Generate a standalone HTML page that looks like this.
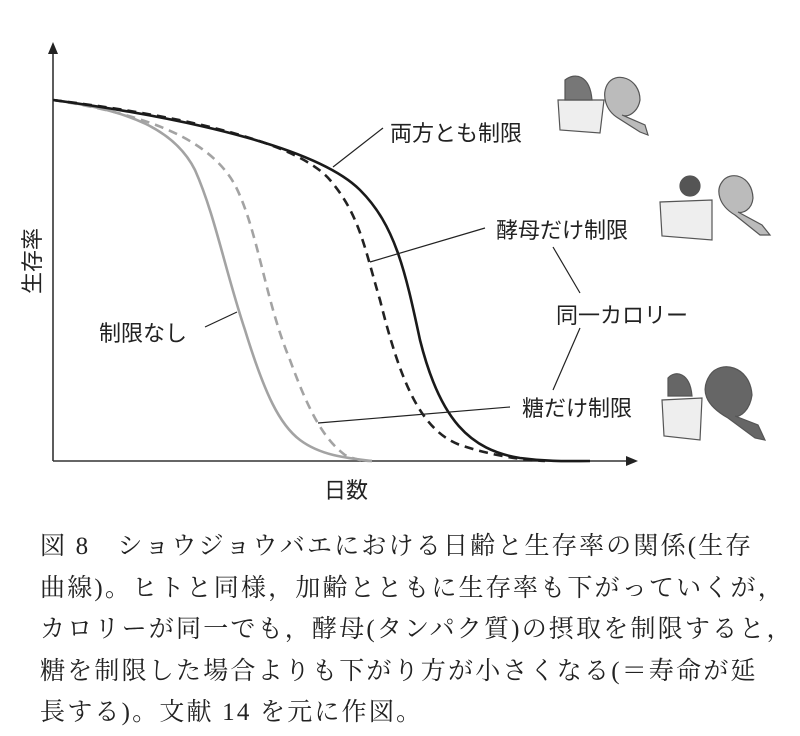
<!DOCTYPE html>
<html><head><meta charset="utf-8"><style>
body{margin:0;background:#fff;width:800px;height:736px;overflow:hidden;position:relative}
.cap{position:absolute;left:40px;top:526px;font-family:"Liberation Serif","Noto Serif CJK JP",serif;font-size:25px;line-height:41.6px;color:#222;letter-spacing:2.2px;white-space:nowrap}
</style></head><body>
<svg width="800" height="520" style="position:absolute;left:0;top:0" font-family="Liberation Sans, Noto Sans CJK JP, sans-serif">
<g stroke="#333" stroke-width="1.6" fill="none">
<line x1="53" y1="461" x2="53" y2="52"/>
<line x1="53" y1="461" x2="628" y2="461"/>
</g>
<polygon points="53,42 48,54 58,54" fill="#222"/>
<polygon points="638,461 626,456 626,466" fill="#222"/>
<g fill="none" stroke-width="2.6">
<path d="M53,100 C130,110 175,130 195,170 C215,215 225,270 245,330 C265,395 280,425 300,440 C320,455 345,458 372,461" stroke="#a3a3a3"/>
<path d="M53,100 C150,115 210,140 235,185 C258,230 265,300 290,360 C310,415 325,440 345,455 C355,460 365,461 372,461" stroke="#a3a3a3" stroke-dasharray="9,6"/>
<path d="M53,100 C200,118 300,145 330,180 C360,215 365,250 380,300 C400,380 420,430 460,445 C490,455 520,460 545,461" stroke="#222" stroke-dasharray="9,6"/>
<path d="M53,100 C200,120 320,150 360,190 C395,225 405,270 420,340 C440,420 470,450 520,458 C550,462 570,461 590,461" stroke="#1a1a1a"/>
</g>
<g stroke="#222" stroke-width="1.2">
<line x1="333" y1="167" x2="383" y2="128"/>
<line x1="370" y1="262" x2="485" y2="228"/>
<line x1="318" y1="423" x2="510" y2="407"/>
<line x1="205" y1="327" x2="237" y2="312"/>
<line x1="553" y1="247" x2="580" y2="293"/>
<line x1="580" y1="328" x2="553" y2="390"/>
</g>
<g font-size="22" fill="#222">
<text x="390" y="141">両方とも制限</text>
<text x="496" y="238">酵母だけ制限</text>
<text x="556" y="323">同一カロリー</text>
<text x="522" y="416">糖だけ制限</text>
<text x="99" y="341">制限なし</text>
<text x="324" y="498">日数</text>
<text transform="translate(40,294) rotate(-90)">生存率</text>
</g>
<g stroke="#555" stroke-width="1.2">
<path d="M558,100 L560,130 L600,133 L604,100 Z" fill="#eee"/>
<path d="M565,80 C575,72 590,75 592,100 L565,100 Z" fill="#777"/>
<path d="M607,85 C615,70 640,78 640,100 C638,112 628,118 622,115 L645,125 L648,135 L640,132 L618,118 C605,110 602,95 607,85 Z" fill="#bbb"/>
<path d="M660,202 L662,236 L712,240 L712,200 Z" fill="#eee"/>
<circle cx="690" cy="186" r="10" fill="#555"/>
<path d="M722,182 C730,170 752,175 753,198 C752,210 742,214 738,212 L762,225 L770,235 L760,235 L735,215 C718,205 716,190 722,182 Z" fill="#bbb"/>
<path d="M662,400 L664,436 L700,440 L702,398 Z" fill="#eee"/>
<path d="M668,378 C675,370 690,372 692,396 L668,396 Z" fill="#666"/>
<path d="M710,375 C720,360 750,365 752,395 C750,410 740,418 735,416 L758,425 L765,440 L755,438 L728,418 C705,405 700,390 710,375 Z" fill="#666"/>
</g>
</svg>
<div class="cap">図 8　ショウジョウバエにおける日齢と生存率の関係(生存<br>曲線)。ヒトと同様，加齢とともに生存率も下がっていくが，<br>カロリーが同一でも，酵母(タンパク質)の摂取を制限すると，<br>糖を制限した場合よりも下がり方が小さくなる(＝寿命が延<br>長する)。文献 14 を元に作図。</div>
</body></html>
